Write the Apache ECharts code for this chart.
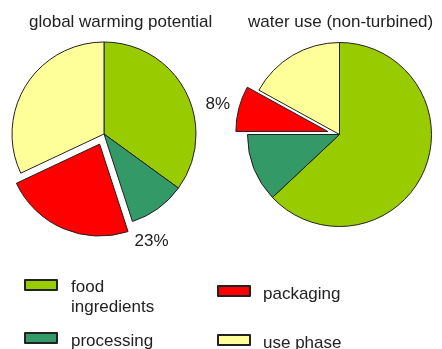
<!DOCTYPE html>
<html>
<head>
<meta charset="utf-8">
<script src="https://cdn.jsdelivr.net/npm/echarts@6/dist/echarts.min.js"></script>
<style>
  html, body { margin: 0; padding: 0; background: #fff; }
  #chart { width: 442px; height: 349px; }
</style>
</head>
<body>
<div id="chart"></div>
<script>
// ---- data ----
const categories = ['food ingredients', 'processing', 'packaging', 'use phase'];
const gwpValues = [35, 10, 23, 32];          // global warming potential (%)
const waterValues = [63, 12, 8, 17];         // water use (non-turbined) (%)
const chartTitles = ['global warming potential', 'water use (non-turbined)'];
const explodedCategory = 'packaging';
const legendLabels = [['food', 'ingredients'], ['processing'], ['packaging'], ['use phase']];

// ---- styles ----
const colors = ['#99CC00', '#339966', '#FF0000', '#FFFF99'];
const FONT = "'Liberation Sans', Arial, sans-serif";
const TEXT = '#222';

function pieData(values) {
  return categories.map((name, i) => ({
    name,
    value: values[i],
    selected: name === explodedCategory,
    itemStyle: { color: colors[i] },
    label: { show: name === explodedCategory }
  }));
}

const pies = [
  { values: gwpValues, center: [104, 134], labelDX: 52, labelDY: 97, offset: 11 },
  { values: waterValues, center: [339.5, 134.5], labelDX: -110, labelDY: -27, offset: 12 }
];

const series = pies.map(p => ({
  type: 'pie',
  center: p.center,
  radius: 92,
  startAngle: 90,
  clockwise: true,
  selectedMode: 'single',
  selectedOffset: p.offset,
  avoidLabelOverlap: false,
  animation: false,
  silent: true,
  itemStyle: { borderColor: '#222', borderWidth: 1 },
  emphasis: { disabled: true },
  label: {
    position: 'center',
    formatter: d => Math.round(d.percent) + '%',
    fontSize: 17,
    fontFamily: FONT,
    color: TEXT
  },
  labelLine: { show: false },
  labelLayout: () => ({ dx: p.labelDX, dy: p.labelDY }),
  data: pieData(p.values)
}));

const legendPos = [
  { left: 24, top: 263, shift: 25, padLeft: 9 },
  { left: 24, top: 326, shift: 7, padLeft: 9 },
  { left: 217, top: 279, shift: 7, padLeft: 8 },
  { left: 217, top: 328, shift: 7, padLeft: 8 }
];

const legends = categories.map((name, i) => ({
  data: [name],
  left: legendPos[i].left,
  top: legendPos[i].top,
  padding: 0,
  icon: 'rect',
  itemWidth: 32,
  itemHeight: 10,
  selectedMode: false,
  formatter: () => '{s| }\n' + legendLabels[i].map(t => '{t|' + t + '}').join('\n'),
  textStyle: {
    fontSize: 17,
    fontFamily: FONT,
    color: TEXT,
    padding: [0, 0, 0, legendPos[i].padLeft],
    rich: {
      s: { fontSize: 4, lineHeight: legendPos[i].shift },
      t: { fontSize: 17, fontFamily: FONT, color: TEXT, lineHeight: 20 }
    }
  }
}));

const chart = echarts.init(document.getElementById('chart'), null, { renderer: 'canvas' });
chart.setOption({
  backgroundColor: '#fff',
  animation: false,
  title: [
    { text: chartTitles[0], left: 29, top: 14, padding: 0,
      textStyle: { fontSize: 17, fontWeight: 'normal', fontFamily: FONT, color: TEXT } },
    { text: chartTitles[1], left: 248, top: 14, padding: 0,
      textStyle: { fontSize: 17, fontWeight: 'normal', fontFamily: FONT, color: TEXT } }
  ],
  legend: legends,
  series
});
</script>
</body>
</html>
